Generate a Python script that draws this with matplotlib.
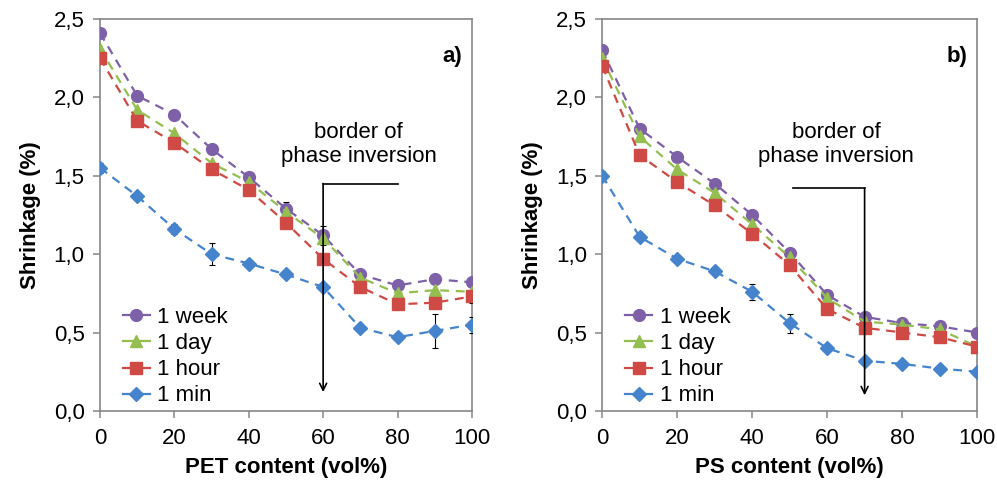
import matplotlib
matplotlib.use("Agg")
import matplotlib.pyplot as plt
from matplotlib.ticker import FuncFormatter
from matplotlib.lines import Line2D

plt.rcParams['font.family'] = ['Liberation Sans', 'DejaVu Sans']

content = [0, 10, 20, 30, 40, 50, 60, 70, 80, 90, 100]
series_names = ["1 week", "1 day", "1 hour", "1 min"]

pet_week = [2.41, 2.01, 1.89, 1.67, 1.49, 1.29, 1.12, 0.87, 0.80, 0.84, 0.82]
pet_day = [2.31, 1.92, 1.77, 1.58, 1.46, 1.27, 1.10, 0.85, 0.75, 0.77, 0.76]
pet_hour = [2.25, 1.85, 1.71, 1.54, 1.41, 1.20, 0.97, 0.79, 0.68, 0.69, 0.73]
pet_min = [1.55, 1.37, 1.16, 1.00, 0.94, 0.87, 0.79, 0.53, 0.47, 0.51, 0.55]
pet_min_err = [0.03, 0.02, 0.03, 0.07, 0.02, 0.02, 0.02, 0.02, 0.02, 0.11, 0.05]
pet_week_err = [0.02, 0.02, 0.02, 0.02, 0.02, 0.04, 0.06, 0.02, 0.02, 0.02, 0.02]
pet_hour_err = [0.02, 0.02, 0.03, 0.02, 0.02, 0.02, 0.02, 0.02, 0.03, 0.02, 0.04]

ps_week = [2.30, 1.80, 1.62, 1.45, 1.25, 1.01, 0.74, 0.60, 0.56, 0.54, 0.50]
ps_day = [2.25, 1.75, 1.54, 1.39, 1.19, 0.98, 0.72, 0.57, 0.55, 0.52, 0.41]
ps_hour = [2.20, 1.63, 1.46, 1.31, 1.13, 0.93, 0.65, 0.53, 0.50, 0.47, 0.41]
ps_min = [1.50, 1.11, 0.97, 0.89, 0.76, 0.56, 0.40, 0.32, 0.30, 0.27, 0.25]
ps_min_err = [0.03, 0.02, 0.02, 0.02, 0.05, 0.06, 0.02, 0.02, 0.02, 0.02, 0.02]

colors = ["#7D60A8", "#94BE50", "#CF4A45", "#4584CD"]
markers = ["o", "^", "s", "D"]
msizes = [8.5, 8.5, 8, 7]

fig = plt.figure(figsize=(9.97, 4.84), dpi=100)
ax1 = fig.add_axes([0.1003, 0.151, 0.373, 0.810])
ax2 = fig.add_axes([0.604, 0.151, 0.376, 0.810])

frame_col = "#868686"
fmt = FuncFormatter(lambda v, p: f"{v:.1f}".replace(".", ","))

def draw(ax, data, errs, xlabel, tag, hline_x0, hline_x1, hline_y, tip_y, text_xy):
    for name, vals, c, m, ms, e in zip(series_names, data, colors, markers, msizes, errs):
        ax.errorbar(content, vals, yerr=e, color=c, ecolor="black", elinewidth=0.8,
                    capsize=2, capthick=0.8, linestyle=(0, (4, 3)), linewidth=1.6,
                    marker=m, markersize=ms, markeredgecolor=c, zorder=3)
    ax.set_xlim(0, 100)
    ax.set_ylim(0, 2.5)
    ax.set_xticks([0, 20, 40, 60, 80, 100])
    ax.set_yticks([0, 0.5, 1.0, 1.5, 2.0, 2.5])
    ax.yaxis.set_major_formatter(fmt)
    ax.tick_params(direction="out", length=5, width=1.1, color=frame_col, labelsize=16, pad=6)
    ax.tick_params(axis="x", pad=7)
    for s in ax.spines.values():
        s.set_color(frame_col)
        s.set_linewidth(1.2)
    ax.set_xlabel(xlabel, fontsize=16, fontweight="bold", labelpad=6)
    ax.set_ylabel("Shrinkage (%)", fontsize=16, fontweight="bold", labelpad=9)
    ax.text(0.975, 0.905, tag, transform=ax.transAxes, ha="right", va="center",
            fontsize=16, fontweight="bold")
    # phase inversion annotation
    ax.plot([hline_x0, hline_x1], [hline_y, hline_y], color="black", lw=1.2, zorder=4)
    ax.annotate("", xy=(hline_x0, tip_y), xytext=(hline_x0, hline_y),
                arrowprops=dict(arrowstyle="->,head_length=0.5,head_width=0.25", color="black", lw=1.2,
                                shrinkA=0, shrinkB=0), zorder=4)
    ax.text(text_xy[0], text_xy[1], "border of\nphase inversion", ha="center", va="center",
            fontsize=16, linespacing=1.2)
    handles = [Line2D([], [], color=c, marker=m, markersize=ms, lw=1.6, markeredgecolor=c)
               for c, m, ms in zip(colors, markers, msizes)]
    ax.legend(handles, series_names, loc="lower left", bbox_to_anchor=(0.05, 0.0),
              frameon=False, fontsize=16, handlelength=1.2, handletextpad=0.35,
              labelspacing=0.23, borderaxespad=0.0, borderpad=0.2)

draw(ax1, [pet_week, pet_day, pet_hour, pet_min],
     [pet_week_err, None, pet_hour_err, pet_min_err],
     "PET content (vol%)", "a)", 60, 80, 1.45, 0.12, (69.5, 1.70))
draw(ax2, [ps_week, ps_day, ps_hour, ps_min],
     [None, None, None, ps_min_err],
     "PS content (vol%)", "b)", 70, 51, 1.42, 0.10, (62.4, 1.70))

fig.savefig("out.png", dpi=100)
